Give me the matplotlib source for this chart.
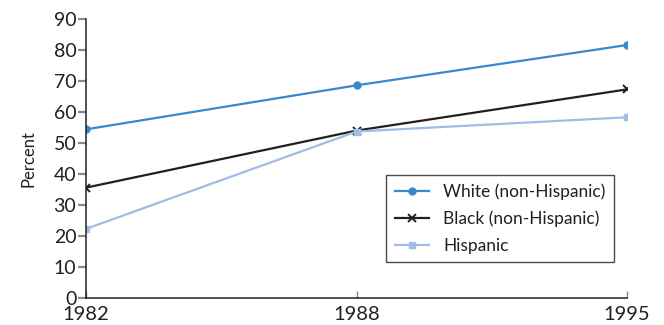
import numpy as np
import matplotlib
matplotlib.use("Agg")
import matplotlib.pyplot as plt

plt.rcParams['font.family'] = ['Lato', 'DejaVu Sans']

years = ["1982", "1988", "1995"]
white = [54.4, 68.6, 81.6]
black = [35.6, 54.0, 67.3]
hispanic = [22.3, 53.7, 58.3]

x = np.arange(len(years))

fig = plt.figure(figsize=(6.64, 3.25), dpi=100)
ax = fig.add_axes([86/664, 1 - 298/325, (627-86)/664, (298-19)/325])

ax.plot(x, white, color='#3a88cc', lw=1.6, marker='o', ms=5, label='White (non-Hispanic)')
ax.plot(x, black, color='#231f20', lw=1.6, marker='x', ms=6, mew=1.4, label='Black (non-Hispanic)')
ax.plot(x, hispanic, color='#9fbde6', lw=1.6, marker='s', ms=5, label='Hispanic')

ax.set_xlim(0, 2)
ax.set_ylim(0, 90)
ax.set_xticks(x)
ax.set_xticklabels(years)
ax.set_yticks(np.arange(0, 91, 10))

for s in ['top', 'right']:
    ax.spines[s].set_visible(False)
for s in ['left', 'bottom']:
    ax.spines[s].set_color('#231f20')
    ax.spines[s].set_linewidth(1.1)

ax.tick_params(axis='y', direction='out', length=6, width=1.6, color='#8a8a8a',
               labelsize=14, labelcolor='#231f20', pad=1)
ax.tick_params(axis='x', direction='in', length=5, width=1.0, color='#8a8a8a',
               labelsize=14.5, labelcolor='#231f20', pad=6)

ax.set_ylabel('Percent', fontsize=12, color='#231f20', labelpad=12)

leg = ax.legend(loc='lower right', bbox_to_anchor=(623/664, 1 - 271/325),
                bbox_transform=fig.transFigure, fontsize=12.5, frameon=True,
                fancybox=False, borderpad=0.5, labelspacing=0.6, handlelength=2.0)
leg.get_frame().set_edgecolor('#231f20')
leg.get_frame().set_linewidth(1.0)
for t in leg.get_texts():
    t.set_color('#231f20')

fig.savefig('out.png', dpi=100)
